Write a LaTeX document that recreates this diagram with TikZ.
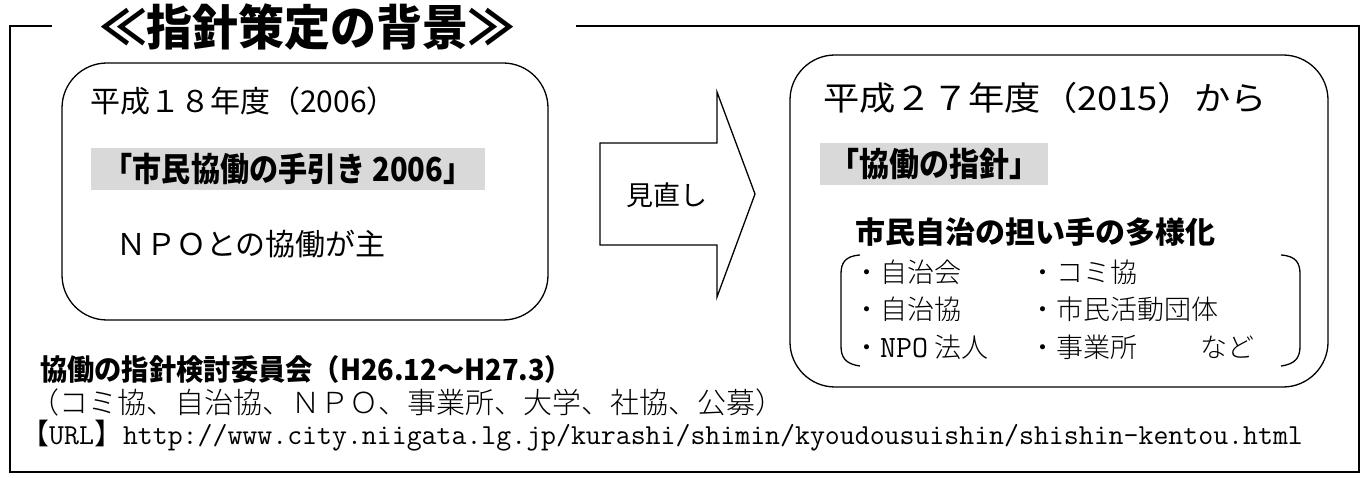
\documentclass[tikz,border=0pt]{standalone}
\usepackage{fontspec}
\usepackage{graphicx}
\setmainfont{Noto Sans CJK JP}
\newfontfamily\jp{Noto Sans CJK JP}
\IfFontExistsTF{Noto Sans CJK JP Light}{\newfontfamily\jpl{Noto Sans CJK JP Light}}{\newfontfamily\jpl{Noto Sans CJK JP}}
\definecolor{hlgray}{HTML}{D9D9D9}
\tikzset{
  frameline/.style={line width=1.8pt},
  roundbox/.style={draw, line width=1.3pt, rounded corners=45pt, inner sep=0pt},
  txt/.style={inner sep=0pt, anchor=west},
  fs/.style={font=\jp\fontsize{#1}{#1}\selectfont},
  fsl/.style={font=\jpl\fontsize{#1}{#1}\selectfont},
  fsb/.style={font=\jp\bfseries\fontsize{#1}{#1}\selectfont},
  bracketline/.style={line width=1.3pt},
}
\begin{document}
\begin{tikzpicture}[x=1pt,y=-1pt]
\useasboundingbox (0,0) rectangle (1368,478);
% outer frame
\draw[frameline] (52,26) -- (10,26) -- (10,472) -- (1359,472) -- (1359,26) -- (576,26);
\node[fsb=46, inner sep=0pt] (title) at (307,27) {\scalebox{1}[1.05]{≪指針策定の背景≫}};
% left box
\draw[roundbox] (62,63) rectangle (548,320);
\node[txt, fs=30] (l1) at (90,101) {平成１８年度（2006）};
\fill[hlgray] (91,148) rectangle (485,190);
\node[fsb=30, inner sep=0pt] (l2) at (288,169) {\scalebox{0.97}[1.1]{「市民協働の手引き 2006」}};
\node[txt, fs=30] (l3) at (116,244) {ＮＰＯとの協働が主};
% arrow
\draw[line width=1.3pt, line join=miter] (600,143) -- (717,143) -- (717,92) -- (755,194) -- (717,297) -- (717,245) -- (600,245) -- cycle;
\node[fs=27, inner sep=0pt] (arr) at (667,195) {見直し};
% right box
\draw[roundbox] (790,55) rectangle (1328,387);
\node[txt, fs=33] (r1) at (823,98) {\scalebox{1.1}[1]{平成２７年度（2015）から}};
\fill[hlgray] (820,143) rectangle (1048,185);
\node[fsb=30, inner sep=0pt] (r2) at (934,164) {\scalebox{1}[1.1]{「協働の指針」}};
\node[txt, fsb=30] (r3) at (855,232) {市民自治の担い手の多様化};
\node[txt, fsl=27] (a1) at (853,272) {・自治会};
\node[txt, fsl=27] (b1) at (1029,272) {・コミ協};
\node[txt, fsl=27] (a2) at (853,309) {・自治協};
\node[txt, fsl=27] (b2) at (1029,309) {・市民活動団体};
\node[txt, fsl=27] (a3) at (853,347) {・{\fontsize{31}{31}\selectfont\ttfamily NPO} 法人};
\node[txt, fsl=27] (b3) at (1029,347) {・事業所};
\node[txt, fsl=27] (c3) at (1200,347) {など};
\draw[bracketline] (860,255) .. controls (845,256) and (841,263) .. (841,274) -- (841,346) .. controls (841,357) and (845,364) .. (860,366);
\draw[bracketline] (1281,255) .. controls (1296,256) and (1300,263) .. (1300,274) -- (1300,346) .. controls (1300,357) and (1296,364) .. (1281,366);
% bottom texts
\node[txt, fsb=29] (m1) at (40,369) {\scalebox{0.94}[1]{協働の指針検討委員会（H26.12～H27.3）}};
\node[txt, fsl=29] (m2) at (30,402) {（コミ協、自治協、ＮＰＯ、事業所、大学、社協、公募）};
\node[txt, fsl=29] (m3) at (20,436) {【{\ttfamily URL}】{\ttfamily http://www.city.niigata.lg.jp/kurashi/shimin/kyoudousuishin/shishin-kentou.html}};
\end{tikzpicture}
\end{document}
